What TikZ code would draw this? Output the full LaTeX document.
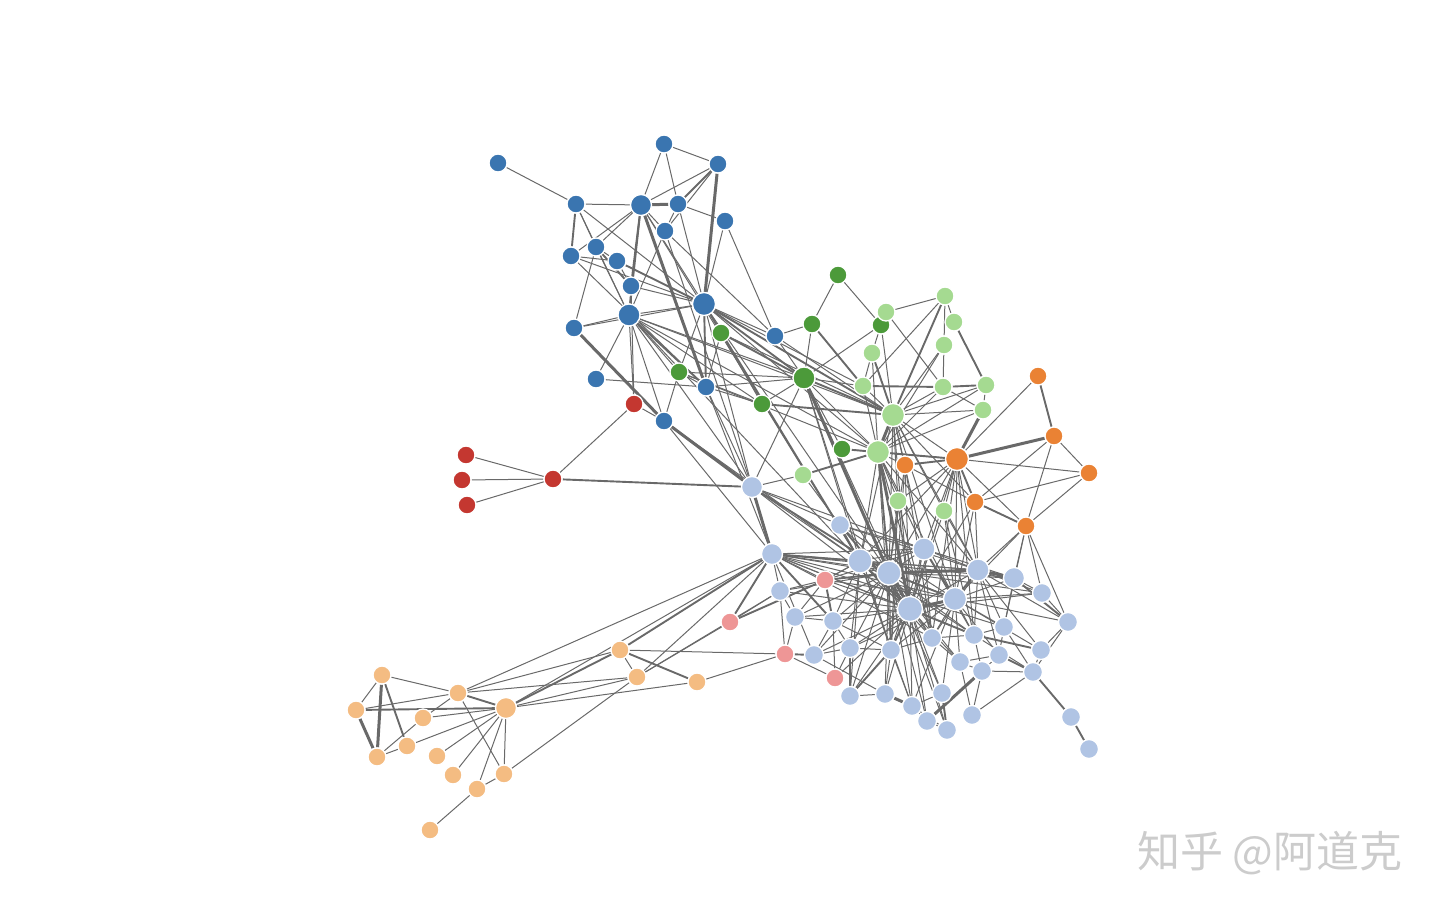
\documentclass[tikz,border=0pt]{standalone}
\usepackage{fontspec}
\newfontfamily\cjkfont{Noto Sans CJK SC}
\usepackage{xcolor}
\definecolor{grpblue}{RGB}{58,117,176}
\definecolor{grpltblue}{RGB}{176,196,228}
\definecolor{grpgreen}{RGB}{76,154,58}
\definecolor{grpltgreen}{RGB}{165,218,145}
\definecolor{grporange}{RGB}{234,130,52}
\definecolor{grpltorange}{RGB}{244,188,130}
\definecolor{grpred}{RGB}{196,55,48}
\definecolor{grppink}{RGB}{238,150,150}
\definecolor{linkgray}{RGB}{105,105,105}
\pgfdeclarelayer{background}
\pgfsetlayers{background,main}
\tikzset{
    vtx/.style={circle, draw=white, line width=1.3pt, inner sep=0pt, minimum size=18pt},
    hub/.style={minimum size=23pt},
    nB/.style={vtx, fill=grpblue},
    nLB/.style={vtx, fill=grpltblue, minimum size=19pt},
    nG/.style={vtx, fill=grpgreen},
    nLG/.style={vtx, fill=grpltgreen},
    nO/.style={vtx, fill=grporange},
    nLO/.style={vtx, fill=grpltorange},
    nR/.style={vtx, fill=grpred},
    nP/.style={vtx, fill=grppink},
    link/.style={linkgray, line width=1pt},
    mlink/.style={linkgray, line width=1.9pt},
    wlink/.style={linkgray, line width=3pt},
}

\begin{document}
\begin{tikzpicture}[x=1pt, y=-1pt]
    \useasboundingbox (0,0) rectangle (1440,913);

    % Blue group (top left)
    \node[nB] (b1) at (664,144) {};
    \node[nB] (b2) at (718,164) {};
    \node[nB] (b3) at (498,163) {};
    \node[nB] (b4) at (576,204) {};
    \node[nB, minimum size=21pt] (b5) at (641,205) {};
    \node[nB] (b6) at (678,204) {};
    \node[nB] (b7) at (725,221) {};
    \node[nB] (b8) at (665,231) {};
    \node[nB] (b9) at (596,247) {};
    \node[nB] (b10) at (571,256) {};
    \node[nB] (b11) at (617,261) {};
    \node[nB] (b12) at (631,286) {};
    \node[nB, hub] (b13) at (704,304) {};
    \node[nB, minimum size=22pt] (b14) at (629,315) {};
    \node[nB] (b15) at (574,328) {};
    \node[nB] (b16) at (775,336) {};
    \node[nB] (b17) at (596,379) {};
    \node[nB] (b18) at (706,387) {};
    \node[nB] (b19) at (664,421) {};

    % Red group
    \node[nR] (r1) at (466,455) {};
    \node[nR] (r2) at (462,480) {};
    \node[nR] (r3) at (467,505) {};
    \node[nR] (r4) at (553,479) {};
    \node[nR] (r5) at (634,404) {};

    % Dark green group
    \node[nG] (g1) at (838,275) {};
    \node[nG] (g2) at (812,324) {};
    \node[nG] (g3) at (881,325) {};
    \node[nG] (g4) at (721,333) {};
    \node[nG] (g5) at (679,372) {};
    \node[nG, minimum size=22pt] (g6) at (804,378) {};
    \node[nG] (g7) at (762,404) {};
    \node[nG] (g8) at (842,449) {};

    % Light green group
    \node[nLG] (lg1) at (945,296) {};
    \node[nLG] (lg2) at (886,312) {};
    \node[nLG] (lg3) at (954,322) {};
    \node[nLG] (lg4) at (872,353) {};
    \node[nLG] (lg5) at (944,345) {};
    \node[nLG] (lg6) at (863,386) {};
    \node[nLG] (lg7) at (943,387) {};
    \node[nLG] (lg8) at (986,385) {};
    \node[nLG, hub] (lg9) at (893,415) {};
    \node[nLG] (lg10) at (983,410) {};
    \node[nLG, hub] (lg11) at (878,452) {};
    \node[nLG] (lg12) at (803,475) {};
    \node[nLG] (lg13) at (898,501) {};
    \node[nLG] (lg14) at (944,511) {};

    % Orange group
    \node[nO] (o1) at (1038,376) {};
    \node[nO] (o2) at (1054,436) {};
    \node[nO] (o3) at (1089,473) {};
    \node[nO, hub] (o4) at (957,459) {};
    \node[nO] (o5) at (905,465) {};
    \node[nO] (o6) at (975,502) {};
    \node[nO] (o7) at (1026,526) {};

    % Light blue group (centre)
    \node[nLB, minimum size=21pt] (lb1) at (752,487) {};
    \node[nLB] (lb2) at (840,525) {};
    \node[nLB, minimum size=21pt] (lb3) at (772,554) {};
    \node[nLB, minimum size=24pt] (lb4) at (860,561) {};
    \node[nLB, minimum size=24pt] (lb5) at (889,573) {};
    \node[nLB, minimum size=22pt] (lb6) at (924,549) {};
    \node[nLB, minimum size=22pt] (lb7) at (978,570) {};
    \node[nLB, minimum size=21pt] (lb8) at (1014,578) {};
    \node[nLB] (lb9) at (1042,593) {};
    \node[nLB] (lb10) at (1068,622) {};
    \node[nLB, minimum size=23pt] (lb11) at (955,599) {};
    \node[nLB, minimum size=25pt] (lb12) at (910,609) {};
    \node[nLB] (lb13) at (780,591) {};
    \node[nLB] (lb14) at (795,617) {};
    \node[nLB] (lb15) at (833,621) {};
    \node[nLB] (lb16) at (932,638) {};
    \node[nLB] (lb17) at (974,635) {};
    \node[nLB] (lb18) at (1004,627) {};
    \node[nLB] (lb19) at (1041,650) {};
    \node[nLB] (lb20) at (814,655) {};
    \node[nLB] (lb21) at (850,648) {};
    \node[nLB] (lb22) at (891,650) {};
    \node[nLB] (lb23) at (960,662) {};
    \node[nLB] (lb24) at (999,655) {};
    \node[nLB] (lb25) at (982,671) {};
    \node[nLB] (lb26) at (1033,672) {};
    \node[nLB] (lb27) at (850,696) {};
    \node[nLB] (lb28) at (885,694) {};
    \node[nLB] (lb29) at (912,706) {};
    \node[nLB] (lb30) at (942,693) {};
    \node[nLB] (lb31) at (927,721) {};
    \node[nLB] (lb32) at (947,730) {};
    \node[nLB] (lb33) at (972,715) {};
    \node[nLB] (lb34) at (1071,717) {};
    \node[nLB] (lb35) at (1089,749) {};

    % Pink group
    \node[nP] (p1) at (825,580) {};
    \node[nP] (p2) at (730,622) {};
    \node[nP] (p3) at (785,654) {};
    \node[nP] (p4) at (835,678) {};

    % Light orange group (bottom left)
    \node[nLO] (lo1) at (620,650) {};
    \node[nLO] (lo2) at (637,677) {};
    \node[nLO] (lo3) at (697,682) {};
    \node[nLO] (lo4) at (382,675) {};
    \node[nLO] (lo5) at (458,693) {};
    \node[nLO, minimum size=21pt] (lo6) at (506,708) {};
    \node[nLO] (lo7) at (356,710) {};
    \node[nLO] (lo8) at (423,718) {};
    \node[nLO] (lo9) at (407,746) {};
    \node[nLO] (lo10) at (377,757) {};
    \node[nLO] (lo11) at (437,756) {};
    \node[nLO] (lo12) at (453,775) {};
    \node[nLO] (lo13) at (477,789) {};
    \node[nLO] (lo14) at (504,774) {};
    \node[nLO] (lo15) at (430,830) {};

    % Watermark
    \node[text=black!20, font=\cjkfont\fontsize{43}{43}\selectfont] (mark) at (1270,853) {知乎 @阿道克};

    \begin{pgfonlayer}{background}
    % Links inside the blue group
    \draw[link] (b1) edge (b2) edge (b5) edge (b6);
    \draw[link] (b2) edge (b5) edge (b8);
    \draw[mlink] (b2) edge (b6);
    \draw[wlink] (b2) edge (b13);
    \draw[link] (b3) edge (b4);
    \draw[link] (b4) edge (b5) edge (b9) edge (b13) edge (b14);
    \draw[mlink] (b4) edge (b10);
    \draw[link] (b5) edge (b8) edge (b9) edge (b10) edge (b13) edge (lb4);
    \draw[mlink] (b5) edge (b12) edge (b14);
    \draw[wlink] (b5) edge (b6) edge (b18);
    \draw[link] (b6) edge (b7) edge (b8) edge (b13);
    \draw[link] (b7) edge (b13) edge (b16);
    \draw[link] (b8) edge (b16) edge (b14) edge (lb1);
    \draw[link] (b9) edge (b11) edge (b14) edge (b15);
    \draw[mlink] (b9) edge (b12);
    \draw[link] (b10) edge (b11) edge (b13) edge (b18);
    \draw[mlink] (b11) edge (b13);
    \draw[link] (b11) edge (b12);
    \draw[link] (b12) edge (b14) edge (b13);
    \draw[link] (b13) edge (b14) edge (b15) edge (b16) edge (g4) edge (g5) edge (lg6) edge (lg11) edge (lb1) edge (lb5);
    \draw[mlink] (b13) edge (g6) edge (lg9) edge (lb4) edge (b18);
    \draw[link] (b14) edge (b15) edge (b17) edge (b19) edge (g5) edge (g7) edge (lg9) edge (g6) edge (lb1) edge (lg11) edge (lb4);
    \draw[mlink] (b14) edge (b18);
    \draw[wlink] (b15) edge (b19);
    \draw[link] (b17) edge (b18);
    \draw[link] (b18) edge (g6) edge (g7) edge (lb1) edge (lb3) edge (g5);
    \draw[wlink] (b19) edge (lb1);
    \draw[link] (b19) edge (g5) edge (lb3) edge (lb4);
    \draw[link] (b16) edge (g6) edge (g2) edge (lg9);

    % Red group
    \draw[link] (r4) edge (r1) edge (r2) edge (r3) edge (r5);
    \draw[mlink] (r4) edge (lb1);
    \draw[link] (r5) edge (b14) edge (b12) edge (b19);

    % Green groups
    \draw[link] (g1) edge (g2) edge (g3);
    \draw[link] (g2) edge (g6);
    \draw[mlink] (g2) edge (lg6);
    \draw[link] (g3) edge (g6) edge (lg4) edge (lg9) edge (lg2);
    \draw[mlink] (g4) edge (g6);
    \draw[link] (g4) edge (lg9) edge (g7) edge (b18);
    \draw[link] (g5) edge (g6) edge (g7) edge (lg11);
    \draw[mlink] (g6) edge (lg9);
    \draw[link] (g6) edge (lg11) edge (lg6) edge (g8) edge (g7) edge (lb4) edge (lb12) edge (lb1) edge (lb22);
    \draw[wlink] (g6) edge (lb5);
    \draw[mlink] (g7) edge (lg9);
    \draw[link] (g8) edge (lg11);
    \draw[mlink] (g8) edge (o4);
    \draw[link] (lg2) edge (lg1) edge (lg7);
    \draw[link] (lg1) edge (lg3) edge (lg5) edge (lg6);
    \draw[mlink] (lg1) edge (lg9);
    \draw[mlink] (lg3) edge (lg8);
    \draw[link] (lg5) edge (lg7) edge (lg9) edge (lg11);
    \draw[mlink] (lg4) edge (lg9);
    \draw[link] (lg4) edge (lg6) edge (lg11);
    \draw[mlink] (lg6) edge (lg7);
    \draw[link] (lg6) edge (lg9) edge (lg11);
    \draw[mlink] (lg7) edge (lg8);
    \draw[link] (lg7) edge (lg9) edge (lg11) edge (lg10);
    \draw[link] (lg8) edge (lg9) edge (lg10) edge (lg11);
    \draw[wlink] (lg9) edge (lg11);
    \draw[link] (lg9) edge (lg10) edge (o4) edge (o5) edge (lg13) edge (lg14) edge (o6) edge (lb4) edge (lb5) edge (lb6) edge (lb12) edge (lb11) edge (lb7);
    \draw[wlink] (lg10) edge (o4);
    \draw[link] (lg10) edge (lg11);
    \draw[mlink] (lg12) edge (lg11);
    \draw[link] (lg12) edge (lb1) edge (lb2);
    \draw[link] (lg11) edge (o5) edge (lb4) edge (lb6) edge (lb11) edge (lg13) edge (lb7) edge (o4) edge (lb22) edge (lb16);
    \draw[mlink] (lg11) edge (lb5);
    \draw[wlink] (lg11) edge (lb12);
    \draw[link] (lg13) edge (lb5) edge (lb12) edge (o4) edge (lb22) edge (lb16);
    \draw[link] (lg14) edge (o4) edge (lb7) edge (lb11) edge (lb12) edge (lb17);

    % Orange group
    \draw[mlink] (o1) edge (o2);
    \draw[link] (o1) edge (o4);
    \draw[wlink] (o2) edge (o4);
    \draw[link] (o2) edge (o3) edge (o6) edge (o7);
    \draw[link] (o3) edge (o4) edge (o6) edge (o7);
    \draw[mlink] (o4) edge (o5) edge (o6);
    \draw[link] (o4) edge (o7) edge (lb4) edge (lb5) edge (lb6) edge (lb11) edge (lb12) edge (lb7) edge (lb16) edge (lb17);
    \draw[link] (o5) edge (lb5) edge (lb12) edge (o6) edge (lb22) edge (lb16);
    \draw[mlink] (o6) edge (o7);
    \draw[link] (o6) edge (lb7) edge (lb11) edge (lb12);
    \draw[link] (o7) edge (lb7) edge (lb8) edge (lb9) edge (lb10) edge (lb11) edge (lb18);

    % Light blue group
    \draw[wlink] (lb1) edge (lb3);
    \draw[link] (lb1) edge (lb2) edge (lb4) edge (lb12) edge (lb6);
    \draw[mlink] (lb1) edge (lb5);
    \draw[link] (lb2) edge (lb4) edge (lb5) edge (lb6) edge (lb11) edge (lb7);
    \draw[mlink] (lb2) edge (lb12);
    \draw[mlink] (lb3) edge (lb4) edge (lb15) edge (lo1);
    \draw[link] (lb3) edge (lb5) edge (lb6) edge (lb7) edge (lb11) edge (lb12) edge (lb8) edge (p1) edge (lb13) edge (lb20) edge (lo2) edge (lo5) edge (lo6) edge (lb16) edge (lb17) edge (lb18) edge (lb9);
    \draw[mlink] (lb4) edge (lb5) edge (lb12);
    \draw[link] (lb4) edge (lb6) edge (lb7) edge (lb11) edge (lb15) edge (lb16) edge (lb22) edge (lb21) edge (p1) edge (lb27) edge (lb17) edge (lb29);
    \draw[wlink] (lb5) edge (lb7);
    \draw[mlink] (lb5) edge (lb11) edge (lb12) edge (p1);
    \draw[link] (lb5) edge (lb6) edge (lb8) edge (lb16) edge (lb17) edge (lb22) edge (lb29) edge (lb21) edge (lb30) edge (lb28) edge (lb13) edge (lb14) edge (lb15) edge (lb20) edge (lb27) edge (lb23) edge (lb31) edge (lb32);
    \draw[mlink] (lb6) edge (lb11);
    \draw[link] (lb6) edge (lb7) edge (lb12) edge (lb8) edge (lb16) edge (lb17) edge (lb22);
    \draw[wlink] (lb7) edge (lb8);
    \draw[mlink] (lb7) edge (lb11);
    \draw[link] (lb7) edge (lb9) edge (lb10) edge (lb12) edge (lb17) edge (lb18) edge (lb19) edge (lb16) edge (lb24);
    \draw[mlink] (lb8) edge (lb10);
    \draw[link] (lb8) edge (lb9) edge (lb11) edge (lb18);
    \draw[link] (lb9) edge (lb10) edge (lb11) edge (lb12);
    \draw[wlink] (lb11) edge (lb12);
    \draw[link] (lb11) edge (lb16) edge (lb17) edge (lb18) edge (lb23) edge (lb24) edge (lb10) edge (lb19) edge (lb29) edge (lb21) edge (lb22) edge (lb30);
    \draw[mlink] (lb12) edge (lb17) edge (lb22);
    \draw[link] (lb12) edge (lb16) edge (lb29) edge (lb31) edge (lb32) edge (lb28) edge (lb21) edge (lb23) edge (lb27) edge (lb30) edge (lb15) edge (lb20) edge (lb14) edge (lb13);
    \draw[link] (lb13) edge (p1) edge (lb14) edge (p2);
    \draw[link] (lb14) edge (lb15) edge (p3);
    \draw[link] (lb15) edge (lb21) edge (lb20) edge (lb22);
    \draw[mlink] (lb15) edge (p1);
    \draw[link] (lb16) edge (lb17) edge (lb23) edge (lb22);
    \draw[mlink] (lb17) edge (lb19);
    \draw[link] (lb17) edge (lb18) edge (lb25) edge (lb26);
    \draw[link] (lb18) edge (lb24) edge (lb26);
    \draw[link] (lb19) edge (lb26) edge (lb10);
    \draw[link] (lb20) edge (lb21) edge (lb28);
    \draw[mlink] (lb20) edge (p3);
    \draw[link] (lb21) edge (lb22) edge (p4);
    \draw[mlink] (lb21) edge (lb27);
    \draw[link] (lb22) edge (lb29) edge (lb28);
    \draw[mlink] (lb22) edge (lb27);
    \draw[link] (lb23) edge (lb24) edge (lb33) edge (lb25);
    \draw[mlink] (lb24) edge (lb26);
    \draw[link] (lb24) edge (lb25);
    \draw[link] (lb25) edge (lb33) edge (lb26);
    \draw[wlink] (lb25) edge (lb31);
    \draw[mlink] (lb26) edge (lb34);
    \draw[link] (lb26) edge (lb33) edge (lb10);
    \draw[mlink] (lb34) edge (lb35);
    \draw[link] (lb27) edge (lb28);
    \draw[wlink] (lb28) edge (lb29);
    \draw[link] (lb29) edge (lb31) edge (lb30) edge (lb32);
    \draw[mlink] (lb30) edge (lb32);
    \draw[link] (lb31) edge (lb32);

    % Pink group
    \draw[mlink] (p1) edge (p2);
    \draw[link] (p1) edge (lb12) edge (lb4) edge (lb14) edge (lb6) edge (lb11);
    \draw[mlink] (p2) edge (lb3);
    \draw[link] (p2) edge (lo2);
    \draw[link] (p3) edge (lo1) edge (lo3) edge (p4) edge (lb13);
    \draw[link] (p4) edge (lb15) edge (lb12);

    % Light orange group
    \draw[link] (lo4) edge (lo7) edge (lo5);
    \draw[wlink] (lo4) edge (lo10);
    \draw[mlink] (lo4) edge (lo9);
    \draw[wlink] (lo7) edge (lo10);
    \draw[mlink] (lo7) edge (lo6);
    \draw[link] (lo7) edge (lo5);
    \draw[link] (lo10) edge (lo9) edge (lo8);
    \draw[link] (lo9) edge (lo6);
    \draw[link] (lo8) edge (lo6) edge (lo5);
    \draw[mlink] (lo5) edge (lo6);
    \draw[link] (lo5) edge (lo1) edge (lo2) edge (lo14);
    \draw[link] (lo6) edge (lo11) edge (lo12) edge (lo13) edge (lo14) edge (lo2) edge (lo3);
    \draw[mlink] (lo6) edge (lo1);
    \draw[mlink] (lo1) edge (lo3);
    \draw[link] (lo1) edge (lo2);
    \draw[link] (lo2) edge (lb13);
    \draw[link] (lo14) edge (lo13) edge (lo2);
    \draw[link] (lo13) edge (lo15);
    \end{pgfonlayer}
\end{tikzpicture}
\end{document}
